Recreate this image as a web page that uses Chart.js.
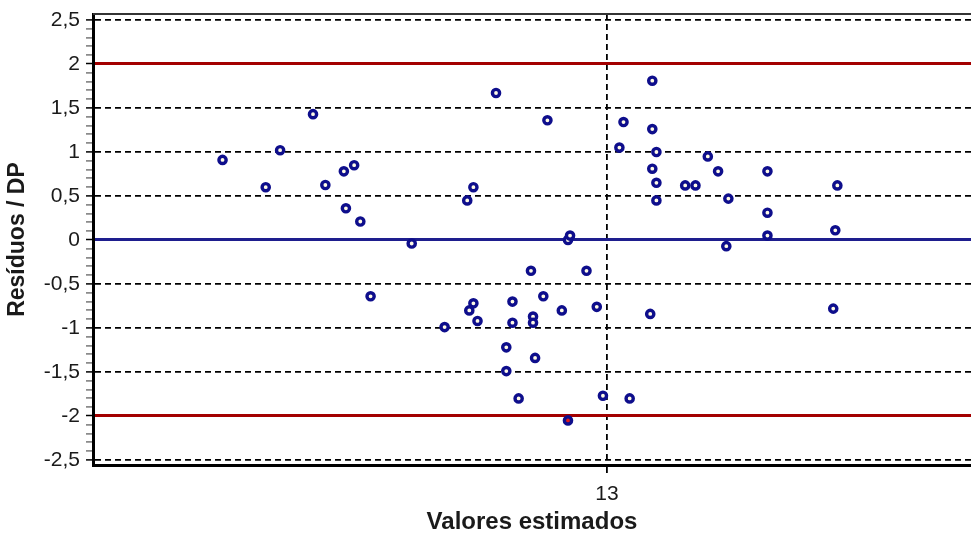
<!DOCTYPE html>
<html>
<head>
<meta charset="utf-8">
<script src="https://cdn.jsdelivr.net/npm/chart.js@4.4.1/dist/chart.umd.min.js"></script>
<style>
  html, body { margin: 0; padding: 0; background: #fff; }
  #wrap { width: 971px; height: 538px; }
</style>
</head>
<body>
<div id="wrap"><canvas id="residuos-chart" width="971" height="538"></canvas></div>
<script>
// Valores estimados (x) e resíduos padronizados (y)
const estimados = [
  11.13, 11.34, 11.41, 11.57, 11.63, 11.72, 11.77, 11.73, 11.80, 11.85,
  12.05, 12.21, 12.32, 12.35, 12.46, 12.71, 12.33, 12.35, 12.37, 12.51,
  12.51, 12.54, 12.54, 12.57, 12.63, 12.64, 12.64, 12.65, 12.69, 12.78,
  12.81, 12.82, 12.81, 12.90, 12.95, 12.98, 13.11, 13.06, 13.08, 13.22,
  13.22, 13.22, 13.24, 13.24, 13.24, 13.21, 13.38, 13.43, 13.49, 13.54,
  13.59, 13.58, 13.78, 13.78, 13.78, 14.12, 14.11, 14.10
];
const residuos = [
  0.91, 0.60, 1.02, 1.43, 0.625, 0.78, 0.85, 0.36, 0.21, -0.64,
  -0.04, -0.99, 0.45, 0.60, 1.67, 1.36, -0.80, -0.72, -0.92, -1.22,
  -1.49, -0.70, -0.94, -1.80, -0.35, -0.87, -0.94, -1.34, -0.64, -0.80,
  0.0, 0.05, -2.05, -0.35, -0.76, -1.77, -1.80, 1.05, 1.34, 1.81,
  1.26, 0.81, 1.0, 0.65, 0.45, -0.84, 0.62, 0.62, 0.95, 0.78,
  0.47, -0.07, 0.78, 0.31, 0.05, 0.62, 0.11, -0.78
];

const xTicks = [13];
const yMajorTicks = [-2.5, -2, -1.5, -1, -0.5, 0, 0.5, 1, 1.5, 2, 2.5];
const limites = [-2, 2];
const xRange = [10.5, 14.77];
const yRange = [-2.557, 2.568];

document.addEventListener('DOMContentLoaded', function() {
  const ctx = document.getElementById('residuos-chart').getContext('2d');

  // minor ticks: 4 between each major
  const yAllTicks = [];
  for (let i = 0; i < yMajorTicks.length; i++) {
    yAllTicks.push(yMajorTicks[i]);
    if (i < yMajorTicks.length - 1) {
      const step = (yMajorTicks[i + 1] - yMajorTicks[i]) / 5;
      for (let k = 1; k < 5; k++) {
        yAllTicks.push(Math.round((yMajorTicks[i] + step * k) * 100) / 100);
      }
    }
  }

  const isMajor = v => yMajorTicks.some(m => Math.abs(m - v) < 1e-6);
  const isLimit = v => limites.some(m => Math.abs(m - v) < 1e-6);
  const isZero = v => Math.abs(v) < 1e-6;

  const frameTop = {
    id: 'frameTop',
    afterDraw(chart) {
      const a = chart.chartArea;
      const c = chart.ctx;
      c.save();
      c.strokeStyle = '#333';
      c.lineWidth = 2;
      c.beginPath();
      c.moveTo(a.left, a.top);
      c.lineTo(a.right, a.top);
      c.stroke();
      c.restore();
    }
  };

  new Chart(ctx, {
    type: 'scatter',
    data: {
      datasets: [{
        label: 'Resíduos',
        data: estimados.map((x, i) => ({ x: x, y: residuos[i] })),
        pointRadius: 3.6,
        pointBorderWidth: 3.4,
        pointBorderColor: '#0e0e8c',
        pointBackgroundColor: function(c) {
          return c.raw && c.raw.y < -2 ? '#e01818' : '#fffbe4';
        }
      }]
    },
    options: {
      responsive: false,
      animation: false,
      layout: { autoPadding: false, padding: { top: 14, right: 0, bottom: 0, left: 0 } },
      plugins: {
        legend: { display: false },
        tooltip: { enabled: false }
      },
      scales: {
        x: {
          type: 'linear',
          min: xRange[0],
          max: xRange[1],
          afterBuildTicks: function(scale) {
            scale.ticks = xTicks.map(v => ({ value: v }));
          },
          afterFit: function(scale) {
            scale.height = 73;
            scale.paddingLeft = 0;
            scale.paddingRight = 0;
          },
          grid: {
            color: '#000',
            lineWidth: 1.8,
            tickLength: 12,
            tickColor: '#000',
            tickBorderDash: [6, 4]
          },
          border: { color: '#000', width: 3, dash: [6, 4] },
          ticks: {
            color: '#1a1a1a',
            padding: 5,
            font: { family: 'Liberation Sans, Arial, sans-serif', size: 21 }
          },
          title: {
            display: true,
            text: 'Valores estimados',
            color: '#1a1a1a',
            padding: { top: 0, bottom: 1 },
            font: { family: 'Liberation Sans, Arial, sans-serif', size: 24, weight: 'bold' }
          }
        },
        y: {
          type: 'linear',
          min: yRange[0],
          max: yRange[1],
          afterBuildTicks: function(scale) {
            scale.ticks = yAllTicks.map(v => ({ value: v }));
          },
          afterFit: function(scale) {
            scale.width = 93;
            scale.paddingTop = 0;
            scale.paddingBottom = 0;
          },
          grid: {
            color: function(c) {
              if (!c.tick) return '#000';
              const v = c.tick.value;
              if (isLimit(v)) return '#a30000';
              if (isZero(v)) return '#1e1e8e';
              return isMajor(v) ? '#000' : 'rgba(0,0,0,0)';
            },
            lineWidth: function(c) {
              if (!c.tick) return 1.8;
              const v = c.tick.value;
              return (isLimit(v) || isZero(v)) ? 3 : 1.8;
            },
            tickLength: 7,
            tickWidth: 1.5,
            tickColor: function(c) {
              if (!c.tick) return '#000';
              return isMajor(c.tick.value) ? '#000' : '#777';
            }
          },
          border: {
            color: '#000',
            width: 3,
            dash: function(c) {
              if (!c.tick) return [6, 4];
              const v = c.tick.value;
              return (isLimit(v) || isZero(v)) ? [] : [6, 4];
            }
          },
          ticks: {
            autoSkip: false,
            color: '#1a1a1a',
            padding: 6,
            font: { family: 'Liberation Sans, Arial, sans-serif', size: 21 },
            callback: function(value) {
              if (!isMajor(value)) return '';
              const r = Math.round(value * 10) / 10;
              return String(r).replace('.', ',');
            }
          },
          title: {
            display: true,
            text: 'Resíduos / DP',
            color: '#1a1a1a',
            padding: { top: 4, bottom: 0 },
            font: { family: 'Liberation Sans, Arial, sans-serif', size: 23, weight: 'bold' }
          }
        }
      }
    },
    plugins: [frameTop]
  });
});
</script>
</body>
</html>
